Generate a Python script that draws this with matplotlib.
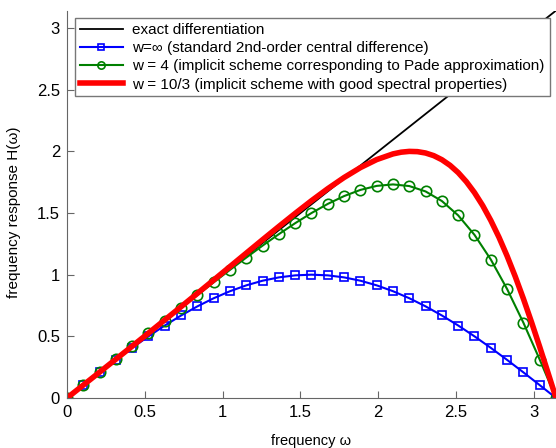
"""Frequency response of central difference schemes vs exact differentiation."""

import matplotlib

matplotlib.use("Agg")
import matplotlib.pyplot as plt  # noqa: E402

plt.rcParams["font.family"] = ["Liberation Sans", "DejaVu Sans"]

# sample points k*pi/30, k = 0..30
omega = [
    0.0, 0.1047, 0.2094, 0.3142, 0.4189, 0.5236, 0.6283, 0.7330, 0.8378,
    0.9425, 1.0472, 1.1519, 1.2566, 1.3614, 1.4661, 1.5708, 1.6755, 1.7802,
    1.8850, 1.9897, 2.0944, 2.1991, 2.3038, 2.4086, 2.5133, 2.6180, 2.7227,
    2.8274, 2.9322, 3.0369, 3.1416,
]

exact_omega = [0.0, 3.1416]
exact_h = [0.0, 3.1416]

# w = infinity (standard 2nd-order central difference)
central_h = [
    0.0, 0.1045, 0.2079, 0.3090, 0.4067, 0.5000, 0.5878, 0.6691, 0.7431,
    0.8090, 0.8660, 0.9135, 0.9511, 0.9781, 0.9945, 1.0000, 0.9945, 0.9781,
    0.9511, 0.9135, 0.8660, 0.8090, 0.7431, 0.6691, 0.5878, 0.5000, 0.4067,
    0.3090, 0.2079, 0.1045, 0.0,
]

# w = 4 (Pade)
pade_h = [
    0.0, 0.1047, 0.2094, 0.3141, 0.4188, 0.5234, 0.6278, 0.7318, 0.8352,
    0.9379, 1.0392, 1.1387, 1.2357, 1.3290, 1.4177, 1.5000, 1.5740, 1.6374,
    1.6874, 1.7200, 1.7320, 1.7186, 1.6750, 1.5970, 1.4806, 1.3228, 1.1230,
    0.8838, 0.6103, 0.3118, 0.0,
]

# w = 10/3, denser near the fall-off
red_omega = [
    0.0, 0.1047, 0.2094, 0.3142, 0.4189, 0.5236, 0.6283, 0.7330, 0.8378,
    0.9425, 1.0472, 1.1519, 1.2566, 1.3614, 1.4661, 1.5708, 1.6755, 1.7802,
    1.8850, 1.9897, 2.0944, 2.1468, 2.1991, 2.2515, 2.3038, 2.3562, 2.4086,
    2.4609, 2.5133, 2.5656, 2.6180, 2.6704, 2.7227, 2.7751, 2.8274, 2.8798,
    2.9322, 2.9845, 3.0369, 3.0892, 3.1416,
]
red_h = [
    0.0, 0.1047, 0.2096, 0.3148, 0.4203, 0.5265, 0.6332, 0.7404, 0.8484,
    0.9569, 1.0658, 1.1749, 1.2838, 1.3915, 1.4973, 1.6000, 1.6977, 1.7880,
    1.8682, 1.9333, 1.9794, 1.9933, 1.9997, 1.9977, 1.9866, 1.9652, 1.9321,
    1.8866, 1.8276, 1.7540, 1.6653, 1.5608, 1.4399, 1.3038, 1.1516, 0.9848,
    0.8051, 0.6143, 0.4146, 0.2088, 0.0,
]

ticks = [0, 0.5, 1, 1.5, 2, 2.5, 3]
tick_labels = ["0", "0.5", "1", "1.5", "2", "2.5", "3"]

fig = plt.figure(figsize=(5.56, 4.48), dpi=100)
ax = fig.add_axes([0.1205, 0.1116, 0.8795, 0.8648])

ax.plot(exact_omega, exact_h, color="black", lw=1.3,
        label="exact differentiation")
ax.plot(omega, central_h, color="#0000ff", lw=1.5, marker="s", ms=6,
        mfc="none", mew=1.2,
        label="w=\u221e (standard 2nd-order central difference)")
ax.plot(omega, pade_h, color="#008000", lw=1.5, marker="o", ms=7.5,
        mfc="none", mew=1.2,
        label="w = 4 (implicit scheme corresponding to Pade approximation)")
ax.plot(red_omega, red_h, color="#ff0000", lw=4,
        label="w = 10/3 (implicit scheme with good spectral properties)")

ax.set_xlim(0, 3.1416)
ax.set_ylim(0, 3.1416)
ax.set_xticks(ticks)
ax.set_xticklabels(tick_labels)
ax.set_yticks(ticks)
ax.set_yticklabels(tick_labels)
ax.tick_params(direction="in", length=5, color="#666666", labelsize=12,
               pad=5)
for side in ("top", "right"):
    ax.spines[side].set_visible(False)
for side in ("left", "bottom"):
    ax.spines[side].set_color("#666666")

ax.set_xlabel("frequency \u03c9", fontsize=10.5, labelpad=10)
ax.set_ylabel("frequency response H(\u03c9)", fontsize=11)
ax.yaxis.set_label_coords(-0.095, 0.48)

leg = ax.legend(loc="upper left", bbox_to_anchor=(0.016, 0.98),
                fontsize=11, fancybox=False, framealpha=1,
                edgecolor="#777777", handlelength=2.85, handletextpad=0.6,
                borderpad=0.32, labelspacing=0.27, borderaxespad=0,
                markerscale=0.7)
leg.get_frame().set_linewidth(1.0)

fig.savefig("out.png", dpi=100)
